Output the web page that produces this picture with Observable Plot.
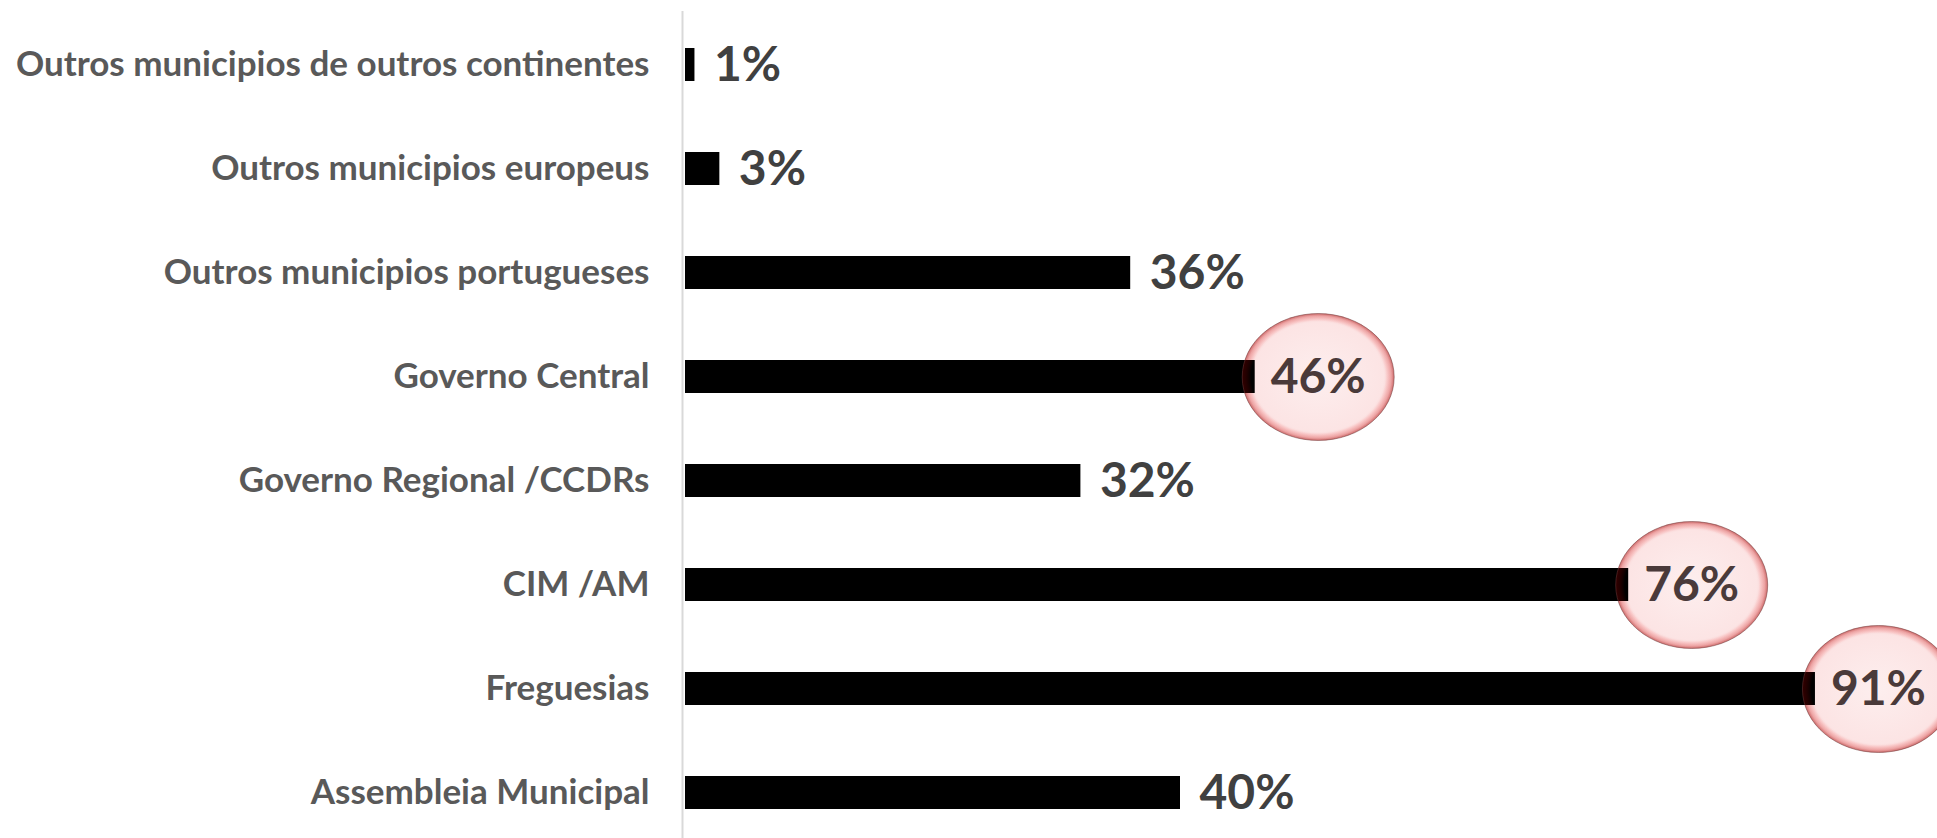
<!DOCTYPE html>
<html>
<head>
<meta charset="utf-8">
<script src="https://cdn.jsdelivr.net/npm/d3@7"></script>
<script src="https://cdn.jsdelivr.net/npm/@observablehq/plot@0.6"></script>
<style>
  html, body { margin: 0; padding: 0; background: white; overflow: hidden; }
  #chart svg { display: block; }
</style>
</head>
<body>
<div id="chart"></div>
<script>
// ---- data ----
const categories = [
  "Outros municipios de outros continentes",
  "Outros municipios europeus",
  "Outros municipios portugueses",
  "Governo Central",
  "Governo Regional /CCDRs",
  "CIM /AM",
  "Freguesias",
  "Assembleia Municipal"
];
const values = [1, 3, 36, 46, 32, 76, 91, 40];
const highlighted = [false, false, false, true, false, true, true, false];

const data = categories.map((c, i) => ({category: c, value: values[i], hl: highlighted[i]}));
const plain = data.filter(d => !d.hl);
const marked = data.filter(d => d.hl);

// ellipse symbol for the highlight bubbles
const ellipse = {
  draw(ctx, size) {
    const r = Math.sqrt(size / Math.PI);
    const rx = r, ry = r * 0.835;
    const kx = rx * 0.5523, ky = ry * 0.5523;
    ctx.moveTo(rx, 0);
    ctx.bezierCurveTo(rx, ky, kx, ry, 0, ry);
    ctx.bezierCurveTo(-kx, ry, -rx, ky, -rx, 0);
    ctx.bezierCurveTo(-rx, -ky, -kx, -ry, 0, -ry);
    ctx.bezierCurveTo(kx, -ry, rx, -ky, rx, 0);
    ctx.closePath();
  }
};

const FONT = "Lato, 'Open Sans', sans-serif";

const chart = Plot.plot({
  width: 1937,
  height: 838,
  marginLeft: 682,
  marginRight: 10,
  marginTop: 11,
  marginBottom: 0,
  style: {fontFamily: FONT, background: "white"},
  x: {domain: [0, 100], axis: null},
  y: {domain: categories, range: [10.86, 845.14], paddingInner: 0.684, paddingOuter: 0.342, align: 0.5, axis: null},
  marks: [
    Plot.ruleX([0], {stroke: "#d9d9d9", strokeWidth: 2}),
    Plot.dot(marked, {x: "value", y: "category", dx: 63, r: 76, symbol: ellipse, fill: "url(#bubbleFill)", stroke: "none"}),
    Plot.barX(data, {x: "value", y: "category", fill: "black", insetLeft: 3}),
    Plot.dot(marked, {x: "value", y: "category", dx: 63, r: 76, symbol: ellipse, fill: "url(#bubbleEdge)", stroke: "#6b3b3b", strokeWidth: 1, strokeOpacity: 0.5}),
    Plot.text(categories, {y: d => d, frameAnchor: "left", textAnchor: "end", dx: -33, fontSize: 35, fontWeight: "bold", fill: "#595959"}),
    Plot.text(plain, {x: "value", y: "category", text: d => d.value + "%", dx: 19, dy: 1, textAnchor: "start", fontSize: 48, fontWeight: "bold", fill: "#404040"}),
    Plot.text(marked, {x: "value", y: "category", text: d => d.value + "%", dx: 63, dy: 1, textAnchor: "middle", fontSize: 48, fontWeight: "bold", fill: "#4a3a3a"})
  ]
});

// gradients for the bubbles
const svg = d3.select(chart);
const defs = svg.insert("defs", ":first-child");
const g1 = defs.append("radialGradient").attr("id", "bubbleFill").attr("cx", "50%").attr("cy", "50%").attr("r", "50%");
g1.append("stop").attr("offset", "0%").attr("stop-color", "#fdeeee");
g1.append("stop").attr("offset", "86%").attr("stop-color", "#fce4e4");
g1.append("stop").attr("offset", "96%").attr("stop-color", "#f7cccc");
g1.append("stop").attr("offset", "100%").attr("stop-color", "#e09a9a");
const g2 = defs.append("radialGradient").attr("id", "bubbleEdge").attr("cx", "50%").attr("cy", "50%").attr("r", "50%");
g2.append("stop").attr("offset", "0%").attr("stop-color", "#ff0000").attr("stop-opacity", 0);
g2.append("stop").attr("offset", "88%").attr("stop-color", "#ff0000").attr("stop-opacity", 0);
g2.append("stop").attr("offset", "100%").attr("stop-color", "#a00000").attr("stop-opacity", 0.3);

document.getElementById("chart").appendChild(chart);
</script>
</body>
</html>
